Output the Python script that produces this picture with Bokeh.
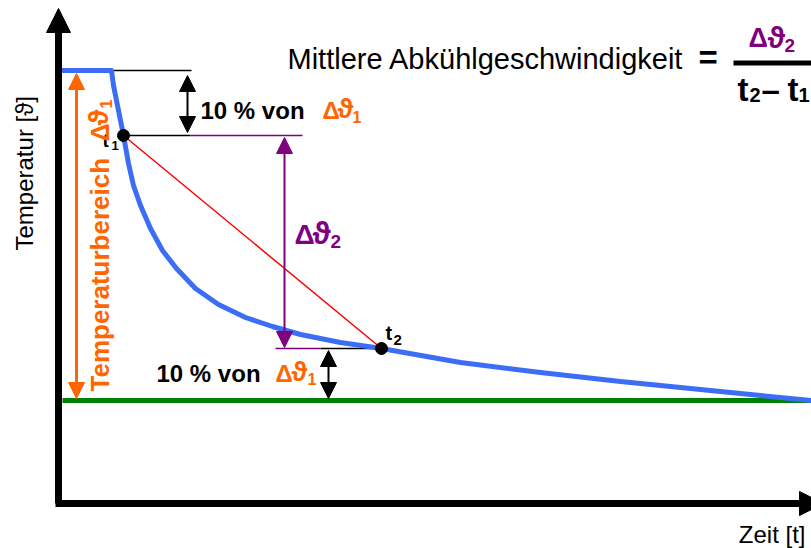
from math import pi
from bokeh.plotting import figure
from bokeh.models import Range1d, Arrow, NormalHead
from bokeh.core.properties import value
from bokeh.embed import file_html
from bokeh.resources import INLINE

# ---- data (time units, temperature units; end temperature = 0) ----
curve_t = [0, 51, 53, 56, 59, 63, 68, 73, 80, 90, 102, 116, 135, 158, 185, 212,
           240, 280, 321, 400, 480, 560, 640, 700, 751]
curve_temp = [330, 330, 315, 300, 285, 265, 237, 215, 195, 172, 150, 132, 112, 96,
              83, 74, 66, 58, 52, 38, 28, 19, 11, 5, 0]
temp_start = 330
temp_end = 0
t1_point = [63, 265]
t2_point = [321, 52]
t_max = 751

FONT = value("Liberation Sans")
BLACK = "#000000"
BLUE = "#3b6ef5"
ORANGE = "#ff6600"
PURPLE = "#800080"
GREEN = "#008000"
RED = "#ff0000"
BASE_SHIFT = 0.38  # baseline correction (fraction of font size)

p = figure(width=811, height=548, x_range=Range1d(-60, 751), y_range=Range1d(-148, 400),
           output_backend="svg", toolbar_location=None, x_axis_type=None, y_axis_type=None,
           min_border=0, min_border_left=0, min_border_right=0, min_border_top=0,
           min_border_bottom=0, outline_line_color=None, background_fill_color="white",
           border_fill_color="white")
p.grid.visible = False


def txt(x, y, s, color=BLACK, size=24, bold=True, rotated=False, align="left"):
    if rotated:
        x = x - BASE_SHIFT * size
        angle = pi / 2
    else:
        y = y + BASE_SHIFT * size
        angle = 0.0
    p.text(x=[x], y=[y], text=[s], text_color=color, text_font=FONT,
           text_font_size=value(f"{size}px"), text_font_style="bold" if bold else "normal",
           angle=angle, text_align=align, text_baseline="alphabetic")


def arrow(x0, y0, x1, y1, color, lw, head, both=False):
    end = NormalHead(size=head, fill_color=color, line_color=color, line_width=1)
    start = NormalHead(size=head, fill_color=color, line_color=color, line_width=1) if both else None
    a = Arrow(x_start=x0, y_start=y0, x_end=x1, y_end=y1, line_color=color,
              line_width=lw, end=end, start=start)
    p.add_layout(a)


# axes (arrows)
arrow(-2, -103, -2, 392, BLACK, 7, 24)
arrow(-5, -103, 763, -103, BLACK, 7, 24)

# end temperature line
p.line([2, t_max], [temp_end, temp_end], line_color=GREEN, line_width=5)

# helper lines
p.line([curve_t[1], 131], [temp_start, temp_start], line_color=BLACK, line_width=1.5)
p.line([t1_point[0], 130], [t1_point[1], t1_point[1]], line_color=BLACK, line_width=1.5)
p.line([130, 242], [t1_point[1], t1_point[1]], line_color=PURPLE, line_width=1.5)
p.line([215, 260], [t2_point[1], t2_point[1]], line_color=PURPLE, line_width=1.5)
p.line([260, t2_point[0]], [t2_point[1], t2_point[1]], line_color=BLACK, line_width=1.5)

# cooling curve
p.line(curve_t, curve_temp, line_color=BLUE, line_width=5, line_join="round")

# secant t1 -> t2
p.line([t1_point[0], t2_point[0]], [t1_point[1], t2_point[1]], line_color=RED, line_width=1.5)
p.scatter([t1_point[0], t2_point[0]], [t1_point[1], t2_point[1]], size=12,
          fill_color=BLACK, line_color=BLACK)

# dimension arrows
arrow(16, 2, 16, temp_start - 3, ORANGE, 3, 16, both=True)
arrow(127, t1_point[1] + 3, 127, temp_start - 5, BLACK, 2, 16, both=True)
arrow(224, t2_point[1] + 1, 224, t1_point[1] - 2, PURPLE, 2, 16, both=True)
arrow(268, 2, 268, t2_point[1] - 2, BLACK, 2, 16, both=True)

# formula
txt(227, 330, "Mittlere Abkühlgeschwindigkeit", bold=False, size=29)
txt(638, 330, "=", size=33)
p.line([673, 751], [337.5, 337.5], line_color=BLACK, line_width=5)
txt(688, 352, "Δ", color=PURPLE, size=27)
txt(707, 352, "ϑ", color=PURPLE, size=30)
txt(724, 348, "2", color=PURPLE, size=19)
txt(677, 298, "t", size=33)
txt(689, 298, "2", size=20)
txt(701, 298, "–", size=33)
txt(727, 298, "t", size=33)
txt(738, 298, "1", size=20)

# 10 % labels
txt(140, 281, "10 % von")
txt(262, 281, "Δ", color=ORANGE)
txt(277, 281, "ϑ", color=ORANGE, size=27)
txt(292, 277, "1", color=ORANGE, size=16)

txt(96, 18, "10 % von")
txt(215, 18, "Δ", color=ORANGE)
txt(231, 18, "ϑ", color=ORANGE, size=27)
txt(247, 15, "1", color=ORANGE, size=16)

# delta theta 2
txt(234, 155, "Δ", color=PURPLE, size=28)
txt(252, 155, "ϑ", color=PURPLE, size=31)
txt(270, 152, "2", color=PURPLE, size=19)

# t1 / t2 labels
txt(42, 253, "t", size=19)
txt(51, 250, "1", size=13)
txt(325, 60, "t", size=20)
txt(333, 55, "2", size=15)

# rotated labels
txt(-27, 150, "Temperatur [ϑ]", bold=False, size=24, rotated=True)
txt(49, 9, "Temperaturbereich", color=ORANGE, size=26, rotated=True)
txt(49, 259, "Δ", color=ORANGE, size=25, rotated=True)
txt(49, 275, "ϑ", color=ORANGE, size=27, rotated=True)
txt(52, 292, "1", color=ORANGE, size=16, rotated=True)

txt(745, -143, "Zeit [t]", bold=False, size=24, align="right")

open("out.html", "w").write(file_html(p, INLINE))
